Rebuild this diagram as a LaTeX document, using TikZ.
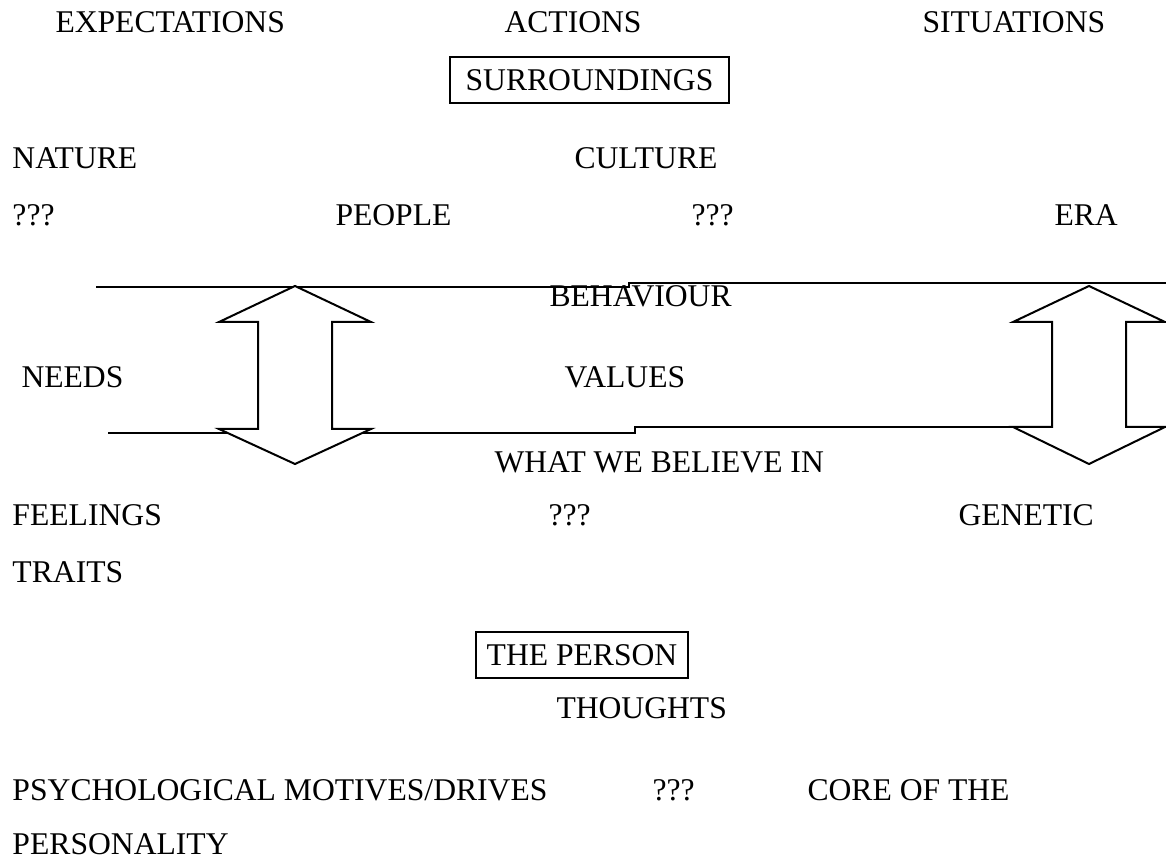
\documentclass[tikz,border=0pt]{standalone}
\usepackage{fontspec}
\setmainfont{Liberation Serif}
\usepackage{tikz}

\begin{document}
\begin{tikzpicture}[x=0.4pt,y=-0.4pt,
  lbl/.style={anchor=base west,inner sep=0pt,font=\fontsize{12.65}{15}\selectfont},
  boxlbl/.style={draw,line width=0.8pt,inner sep=0pt,font=\fontsize{12.65}{15}\selectfont},
  band/.style={line width=0.8pt},
  updown/.style={draw,line width=0.8pt,fill=white,line join=miter}]
  \useasboundingbox (0,0) rectangle (1166,858);

  % the two bands
  \draw[band] (96,287) -- (629,287) -- (629,283) -- (1166,283);
  \draw[band] (108,433) -- (635,433) -- (635,427) -- (1060,427);

  % double arrows
  \foreach \cx/\yb in {295/429, 1089/427}
    \draw[updown] (\cx,286) -- ({\cx+76},322) -- ({\cx+37},322) -- ({\cx+37},\yb)
      -- ({\cx+76},\yb) -- (\cx,464) -- ({\cx-76},\yb) -- ({\cx-37},\yb)
      -- ({\cx-37},322) -- ({\cx-76},322) -- cycle;

  % surroundings
  \node[lbl] (expect) at (55,33) {EXPECTATIONS};
  \node[lbl] (actions) at (504,33) {ACTIONS};
  \node[lbl] (situ) at (922,33) {SITUATIONS};
  \node[boxlbl,minimum width=111.6pt,minimum height=18.4pt] (surr) at (589.5,80) {SURROUNDINGS};
  \node[lbl] (nature) at (12,169) {NATURE};
  \node[lbl] (culture) at (574,169) {CULTURE};
  \node[lbl] (qa) at (12,226) {???};
  \node[lbl] (people) at (335,226) {PEOPLE};
  \node[lbl] (qb) at (691,226) {???};
  \node[lbl] (era) at (1054,226) {ERA};

  % between the bands
  \node[lbl] (behav) at (549,307) {BEHAVIOUR};
  \node[lbl] (needs) at (21,388) {NEEDS};
  \node[lbl] (values) at (564,388) {VALUES};
  \node[lbl] (believe) at (494,473) {WHAT WE BELIEVE IN};

  % the person
  \node[lbl] (feel) at (12,526) {FEELINGS};
  \node[lbl] (qc) at (548,526) {???};
  \node[lbl] (genetic) at (958,526) {GENETIC};
  \node[lbl] (traits) at (12,582) {TRAITS};
  \node[boxlbl,minimum width=84.8pt,minimum height=18.4pt] (person) at (582,655) {THE PERSON};
  \node[lbl] (thoughts) at (556,718) {THOUGHTS};
  \node[lbl] (psych) at (12,800) {PSYCHOLOGICAL MOTIVES/DRIVES};
  \node[lbl] (qd) at (652,800) {???};
  \node[lbl] (core) at (807,800) {CORE OF THE};
  \node[lbl] (personality) at (12,854) {PERSONALITY};
\end{tikzpicture}
\end{document}
